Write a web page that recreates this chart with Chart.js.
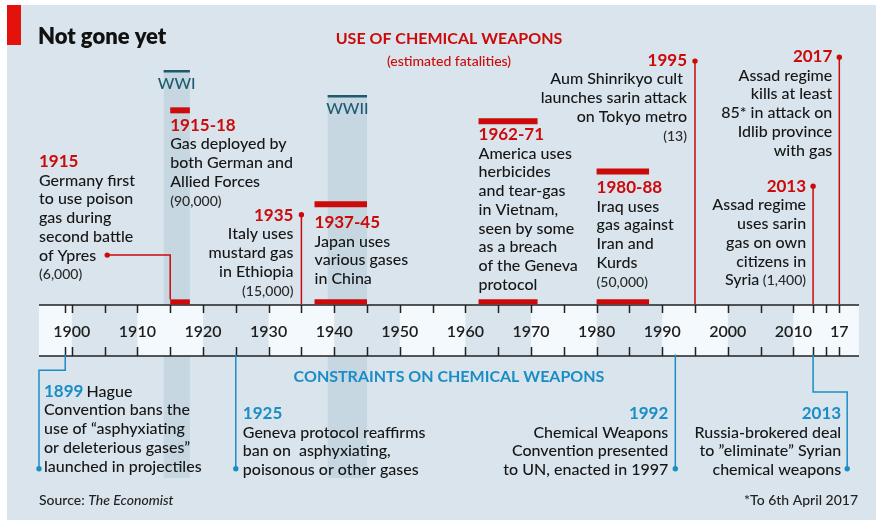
<!DOCTYPE html>
<html>
<head>
<meta charset="utf-8">
<script src="https://cdn.jsdelivr.net/npm/chart.js@4.4.0/dist/chart.umd.min.js"></script>
<style>
  body { margin: 0; background: #fff; }
  #chartarea { width: 876px; height: 520px; }
</style>
</head>
<body>
<div id="chartarea"><canvas id="myChart" width="876" height="520"></canvas></div>
<script>
// timeline range and axis labels
const tickYears = [1900, 1910, 1920, 1930, 1940, 1950, 1960, 1970, 1980, 1990, 2000, 2010, 2017];
const tickLabels = ['1900', '1910', '1920', '1930', '1940', '1950', '1960', '1970', '1980', '1990', '2000', '2010', '17'];

// world wars
const warNames = ['WWI', 'WWII'];
const warStart = [1914, 1939];
const warEnd = [1918, 1945];

// use of chemical weapons
const useHead = ['1915', '1915-18', '1935', '1937-45', '1962-71', '1980-88', '1995', '2013', '2017'];
const useStart = [1915, 1915, 1935, 1937, 1962, 1980, 1995, 2013, 2017];
const useEnd = [1915, 1918, 1935, 1945, 1971, 1988, 1995, 2013, 2017];
const useBody = [
    ['Germany first', 'to use poison', 'gas during', 'second battle', 'of Ypres'],
    ['Gas deployed by', 'both German and', 'Allied Forces'],
    ['Italy uses', 'mustard gas', 'in Ethiopia'],
    ['Japan uses', 'various gases', 'in China'],
    ['America uses', 'herbicides', 'and tear-gas', 'in Vietnam,', 'seen by some', 'as a breach', 'of the Geneva', 'protocol'],
    ['Iraq uses', 'gas against', 'Iran and', 'Kurds'],
    ['Aum Shinrikyo cult ', 'launches sarin attack', 'on Tokyo metro'],
    ['Assad regime', 'uses sarin', 'gas on own', 'citizens in', 'Syria'],
    ['Assad regime', 'kills at least', '85* in attack on', 'Idlib province', 'with gas']
];
const useDeaths = ['(6,000)', '(90,000)', '(15,000)', '', '', '(50,000)', '(13)', '(1,400)', ''];

// constraints on chemical weapons
const conHead = ['1899', '1925', '1992', '2013'];
const conYear = [1899, 1925, 1992, 2013];
const conBody = [
    ['Hague', 'Convention bans the', 'use of \u201casphyxiating', 'or deleterious gases\u201d', 'launched in projectiles'],
    ['Geneva protocol reaffirms', 'ban on  asphyxiating,', 'poisonous or other gases'],
    ['Chemical Weapons', 'Convention presented', 'to UN, enacted in 1997'],
    ['Russia-brokered deal', 'to \u201deliminate\u201d Syrian', 'chemical weapons']
];

// layout (pixels for vertical placement, years for horizontal anchors)
const useLayout = [
    { textAt: 1895, dx: 0, align: 'left', headY: 167, dotY: 255, elbow: 1905.4 },
    { textAt: 1915, dx: 0, align: 'left', headY: 130.7, barY: 108 },
    { textAt: 1935, dx: -8, align: 'right', headY: 220.7, dotY: 214 },
    { textAt: 1937, dx: 0, align: 'left', headY: 228, barY: 203.5 },
    { textAt: 1962, dx: 0, align: 'left', headY: 140, barY: 119 },
    { textAt: 1980, dx: 0, align: 'left', headY: 193, barY: 170 },
    { textAt: 1995, dx: -8, align: 'right', headY: 65.7, dotY: 58 },
    { textAt: 2013, dx: -7, align: 'right', headY: 191.7, dotY: 185, inlineDeaths: true },
    { textAt: 2017, dx: -7, align: 'right', headY: 62, dotY: 54 }
];
const conLayout = [
    { elbow: 1895, elbowY: 372, dx: 5, align: 'left', headY: 396.7, inlineHead: true },
    { elbow: null, dx: 7, align: 'left', headY: 419 },
    { elbow: null, dx: -7, align: 'right', headY: 419 },
    { elbow: 2018.2, elbowY: 394, dx: -6, align: 'right', headY: 419 }
];
const warTop = [70, 95];

const FONT = 'Lato, "Noto Sans", sans-serif';
const BODY = '500 16px ' + FONT;
const SMALL = '500 14px ' + FONT;
const PANEL = '#d9e4ec';
const WARFILL = '#c6d7e2';
const RED = '#cc0a0a';
const BLUE = '#1b8dc6';
const INK = '#161616';
const LINE_H = 18.7;
const BAND_TOP = 305, BAND_BOT = 356;

function bar(s, e, y, w) {
    return {
        data: [{ x: s, y: y }, { x: e, y: y }],
        showLine: true, borderColor: RED, borderWidth: w,
        borderCapStyle: 'butt', pointRadius: 0, clip: false
    };
}

function connector(pts, color, dotIndex) {
    return {
        data: pts,
        showLine: true, borderColor: color, borderWidth: 1.5,
        pointRadius: pts.map((p, k) => k === dotIndex ? 2.7 : 0),
        pointBackgroundColor: color, pointBorderWidth: 0,
        clip: false
    };
}

const datasets = [];
useStart.forEach((s, i) => {
    const L = useLayout[i];
    if (useEnd[i] > s) {
        datasets.push(bar(s, useEnd[i], L.barY, 6));
        datasets.push(bar(s, useEnd[i], 302.5, 5));
    } else if (L.elbow) {
        datasets.push(connector([{ x: L.elbow, y: L.dotY }, { x: s, y: L.dotY }, { x: s, y: 300 }], RED, 0));
    } else {
        datasets.push(connector([{ x: s, y: L.dotY }, { x: s, y: BAND_TOP }], RED, 0));
    }
});
conYear.forEach((yr, i) => {
    const L = conLayout[i];
    let pts;
    if (L.elbow) {
        pts = [{ x: yr, y: BAND_BOT }, { x: yr, y: L.elbowY }, { x: L.elbow, y: L.elbowY }, { x: L.elbow, y: 472 }];
    } else {
        pts = [{ x: yr, y: BAND_BOT }, { x: yr, y: 472 }];
    }
    datasets.push(connector(pts, BLUE, pts.length - 1));
});

// background, war columns and the year band
const backdrop = {
    id: 'backdrop',
    beforeDatasetsDraw(chart) {
        const ctx = chart.ctx, xs = chart.scales.x;
        const left = chart.chartArea.left, right = chart.chartArea.right;
        ctx.save();
        ctx.fillStyle = '#fff';
        ctx.fillRect(0, 0, 876, 520);
        ctx.fillStyle = PANEL;
        ctx.fillRect(7, 5, 869, 515);
        ctx.fillStyle = '#e3120b';
        ctx.fillRect(7, 5, 14, 40);

        warNames.forEach((w, i) => {
            const l = xs.getPixelForValue(warStart[i]), r = xs.getPixelForValue(warEnd[i]);
            ctx.fillStyle = WARFILL;
            ctx.fillRect(l, warTop[i], r - l, 478 - warTop[i]);
            ctx.fillStyle = '#1d5a70';
            ctx.fillRect(l, warTop[i], r - l, 2.5);
            ctx.font = '500 16px ' + FONT;
            ctx.textAlign = 'center';
            ctx.fillText(w, (l + r) / 2, warTop[i] + 19);
        });

        // band
        ctx.fillStyle = '#f4f9fd';
        ctx.fillRect(left, BAND_TOP, right - left, BAND_BOT - BAND_TOP);
        ctx.fillStyle = PANEL;
        for (let d = 1900; d < 2020; d += 20) {
            const a = xs.getPixelForValue(d), b = xs.getPixelForValue(d + 10);
            ctx.fillRect(a, BAND_TOP, b - a, BAND_BOT - BAND_TOP);
        }
        ctx.strokeStyle = '#222';
        ctx.lineWidth = 1.5;
        ctx.beginPath();
        ctx.moveTo(left, BAND_TOP); ctx.lineTo(right, BAND_TOP);
        ctx.moveTo(left, BAND_BOT); ctx.lineTo(right, BAND_BOT);
        const marks = [1899, 2013, 2017];
        for (let y = 1900; y <= 2015; y += 5) marks.push(y);
        marks.forEach(y => {
            const px = Math.round(xs.getPixelForValue(y)) + 0.5;
            ctx.moveTo(px, BAND_TOP); ctx.lineTo(px, BAND_TOP + 8);
            ctx.moveTo(px, BAND_BOT); ctx.lineTo(px, BAND_BOT - 9);
        });
        ctx.stroke();

        ctx.fillStyle = '#1e1e1e';
        ctx.font = '600 16px ' + FONT;
        ctx.textAlign = 'center';
        ctx.textBaseline = 'middle';
        tickYears.forEach((y, i) => {
            ctx.fillText(tickLabels[i], xs.getPixelForValue(y), 331.5);
        });
        ctx.restore();
    }
};

function drawBlock(ctx, x, headY, align, head, headColor, lines, deaths, opts) {
    ctx.textAlign = align;
    ctx.textBaseline = 'alphabetic';
    let y = headY;
    if (opts.inlineHead) {
        ctx.textAlign = 'left';
        ctx.font = 'bold 17px ' + FONT;
        ctx.fillStyle = headColor;
        ctx.fillText(head, x, y);
        const w = ctx.measureText(head + ' ').width;
        ctx.font = BODY;
        ctx.fillStyle = INK;
        ctx.fillText(lines[0], x + w - 1, y);
        lines = lines.slice(1);
        ctx.textAlign = align;
    } else {
        ctx.font = 'bold 17px ' + FONT;
        ctx.fillStyle = headColor;
        ctx.fillText(head, x, y);
    }
    ctx.fillStyle = INK;
    lines.forEach((t, k) => {
        y += LINE_H;
        const last = k === lines.length - 1;
        if (last && deaths && opts.inlineDeaths) {
            ctx.font = SMALL;
            ctx.fillStyle = '#2a2a2a';
            ctx.fillText(' ' + deaths, x, y);
            const w = ctx.measureText(' ' + deaths).width;
            ctx.font = BODY;
            ctx.fillStyle = INK;
            ctx.fillText(t, x - w, y);
        } else {
            ctx.font = BODY;
            ctx.fillText(t, x, y);
        }
    });
    if (deaths && !opts.inlineDeaths) {
        y += LINE_H;
        ctx.font = SMALL;
        ctx.fillStyle = '#2a2a2a';
        ctx.fillText(deaths, x, y);
    }
}

// all the words
const annotations = {
    id: 'annotations',
    afterDatasetsDraw(chart) {
        const ctx = chart.ctx, xs = chart.scales.x;
        const mid = (chart.chartArea.left + chart.chartArea.right) / 2;
        ctx.save();

        ctx.fillStyle = '#111';
        ctx.font = '800 22px ' + FONT;
        ctx.textAlign = 'left';
        ctx.fillText('Not gone yet', 38, 44);

        ctx.textAlign = 'center';
        ctx.fillStyle = RED;
        ctx.font = 'bold 16px ' + FONT;
        ctx.fillText('USE OF CHEMICAL WEAPONS', mid, 44);
        ctx.font = SMALL;
        ctx.fillText('(estimated fatalities)', mid, 66);

        ctx.fillStyle = BLUE;
        ctx.font = 'bold 16px ' + FONT;
        ctx.fillText('CONSTRAINTS ON CHEMICAL WEAPONS', mid, 382);

        useHead.forEach((h, i) => {
            const L = useLayout[i];
            const x = xs.getPixelForValue(L.textAt) + L.dx;
            drawBlock(ctx, x, L.headY, L.align, h, RED, useBody[i], useDeaths[i], L);
        });
        conHead.forEach((h, i) => {
            const L = conLayout[i];
            const base = L.elbow ? L.elbow : conYear[i];
            const x = xs.getPixelForValue(base) + L.dx;
            drawBlock(ctx, x, L.headY, L.align, h, BLUE, conBody[i], '', L);
        });

        ctx.textAlign = 'left';
        ctx.fillStyle = '#222';
        ctx.font = SMALL;
        ctx.fillText('Source: ', 39, 505);
        const w = ctx.measureText('Source: ').width;
        ctx.font = 'italic 500 14px ' + FONT;
        ctx.fillText('The Economist', 39 + w, 505);
        ctx.font = SMALL;
        ctx.textAlign = 'right';
        ctx.fillText('*To 6th April 2017', 858, 505);
        ctx.restore();
    }
};

const chart = new Chart(document.getElementById('myChart'), {
    type: 'scatter',
    data: { datasets: datasets },
    options: {
        responsive: false,
        animation: false,
        devicePixelRatio: 1,
        layout: { padding: { left: 39, right: 17, top: 0, bottom: 0 } },
        scales: {
            x: { type: 'linear', min: 1895, max: 2020, display: false },
            y: { type: 'linear', min: 0, max: 520, reverse: true, display: false }
        },
        plugins: { legend: { display: false }, tooltip: { enabled: false } }
    },
    plugins: [backdrop, annotations]
});
</script>
</body>
</html>
